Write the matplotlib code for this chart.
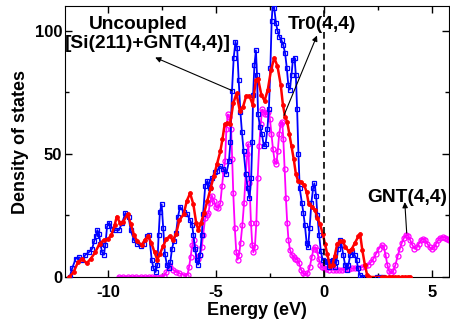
import matplotlib
matplotlib.use("Agg")
import matplotlib.pyplot as plt

# ---------------- data ----------------
red_E = [-11.8, -11.6, -11.4, -11.2, -11.0, -10.8, -10.6, -10.4, -10.2, -10.0, -9.85, -9.7, -9.6, -9.45, -9.3,
         -9.1, -8.95, -8.8, -8.65, -8.45, -8.3, -8.15, -8.0, -7.85, -7.72, -7.6, -7.45, -7.3, -7.15, -7.0,
         -6.85, -6.7, -6.5, -6.35, -6.2, -6.05, -5.92, -5.82, -5.7, -5.55, -5.4, -5.25, -5.1, -4.95, -4.8,
         -4.7, -4.6, -4.5, -4.35, -4.2, -4.05, -3.9, -3.75, -3.6, -3.45, -3.3, -3.15, -3.05, -2.9, -2.75,
         -2.6, -2.45, -2.3, -2.15, -2.0, -1.9, -1.8, -1.7, -1.6, -1.5, -1.4, -1.3, -1.2, -1.05, -0.92,
         -0.8, -0.7, -0.55, -0.4, -0.3, -0.18, -0.05, 0.05, 0.15, 0.28, 0.4, 0.5, 0.62, 0.75, 0.88,
         1.0, 1.15, 1.3, 1.45, 1.6, 1.68, 1.78, 1.9, 2.0, 2.1, 2.7, 2.85, 3.0, 3.15, 3.3, 3.45, 3.6, 3.75, 3.9, 4.0]
red_D = [0, 2, 6, 7.5, 5.5, 7.5, 10, 13.5, 15, 15.5, 17, 21, 24.5, 22, 22.5,
         25.5, 21.5, 17, 14.5, 13, 15, 16.5, 14, 10, 7, 9.5, 12.5, 15.5, 16.5, 15,
         17.5, 23, 25.5, 31, 34, 29.5, 22, 19, 22, 26, 31, 36, 41, 46, 51,
         56, 62, 62.5, 62, 70.5, 74.5, 67.5, 69, 73.5, 73.5, 70, 80, 80.5, 74, 71.5,
         76, 84, 89, 85.5, 78, 70, 65, 63, 58, 53, 48, 42, 39, 38.5, 37.5,
         34.5, 29.5, 28.5, 27, 24, 21.5, 17.5, 13.5, 9.5, 4.5, 5, 8.5, 13.5, 14.5, 14.5,
         12, 10.5, 11.5, 14, 16.5, 17.5, 11, 5, 1, 0, 0, 0, 0, 0, 0, 0, 0, 0, 0, 0]

blue_E = [-11.78, -11.67, -11.5, -11.35, -11.2, -11.06, -10.9, -10.74, -10.65, -10.58, -10.5, -10.42, -10.36,
          -10.28, -10.2, -10.13, -10.05, -9.95, -9.8, -9.68, -9.5, -9.35, -9.2, -9.05, -8.96, -8.8, -8.65,
          -8.5, -8.35, -8.2, -8.1, -7.98, -7.9, -7.8, -7.72, -7.66, -7.6, -7.52, -7.45, -7.37, -7.28, -7.2,
          -7.12, -7.04, -6.95, -6.85, -6.76, -6.67, -6.5, -6.34, -6.2, -6.1, -6.05, -5.97, -5.9, -5.83,
          -5.74, -5.66, -5.6, -5.5, -5.4, -5.28, -5.19, -5.05, -4.95, -4.82, -4.67, -4.52, -4.4, -4.33,
          -4.26, -4.18, -4.1, -4.02, -3.95, -3.87, -3.8, -3.72, -3.62, -3.53, -3.45, -3.37, -3.32, -3.28,
          -3.22, -3.15, -3.1, -3.05, -2.96, -2.87, -2.78, -2.7, -2.62, -2.55, -2.48, -2.42, -2.36, -2.3,
          -2.22, -2.15, -2.06, -1.96, -1.88, -1.8, -1.72, -1.65, -1.58, -1.5, -1.44, -1.36, -1.3, -1.24,
          -1.18, -1.12, -1.02, -0.95, -0.88, -0.8, -0.73, -0.66, -0.58, -0.5, -0.44, -0.36, -0.3, -0.22,
          -0.14, -0.06, 0.04, 0.14, 0.22, 0.32, 0.4, 0.5, 0.58, 0.66, 0.74, 0.82, 0.9, 0.98, 1.06, 1.14,
          1.22, 1.32, 1.42, 1.52, 1.58, 1.66, 1.76, 2.45, 2.6, 2.75]
blue_D = [0, 3.5, 7.5, 8, 7, 9, 10, 11.5, 14.5, 16.5, 19, 17.5, 13.5,
          10, 9, 13, 20.5, 22, 19.5, 19, 19, 22, 26, 24.5, 19, 15, 13.5,
          12.5, 13.5, 16.5, 17, 7, 3.5, 2, 5, 17, 26.5, 29.5, 20, 9.5, 5, 3.5,
          6, 11.5, 14.5, 18, 24.5, 28.5, 26.5, 25.5, 23, 21, 17, 11.5, 7, 5,
          9, 17, 25.5, 37, 39, 36, 40, 42.5, 43, 45, 44, 42, 47, 55,
          75.5, 89, 95.5, 93, 80, 67, 59, 51, 42, 36, 32, 40, 55, 74,
          86, 92, 82, 66, 61, 58, 53, 54, 60, 68, 85, 104, 112, 109,
          103, 100, 97.5, 96, 94, 91, 85, 78, 76, 82, 88, 89, 82, 68,
          50, 36, 30, 26, 21, 14, 12, 20, 30, 36, 38, 33, 25, 17,
          10.5, 7, 6.5, 6, 4, 6.5, 7, 4, 6, 11.5, 15, 13, 9, 5, 3, 5,
          9, 10, 9, 7, 3.5, 1, 0, 0, 0, 0]

mag_E = [-9.5, -9.3, -9.1, -8.9, -8.7, -8.5, -8.3, -8.1, -7.95, -7.75, -7.55, -7.4, -7.3, -7.2, -7.12, -7.0,
         -6.85, -6.7, -6.55, -6.4, -6.32, -6.25, -6.18, -6.1, -6.04, -5.97, -5.9, -5.83, -5.74, -5.66, -5.6,
         -5.5, -5.42, -5.35, -5.28, -5.19, -5.1, -5.0, -4.9, -4.8, -4.72, -4.65, -4.58, -4.52, -4.45, -4.38,
         -4.3, -4.25, -4.2, -4.13, -4.06, -4.0, -3.93, -3.86, -3.78, -3.7, -3.62, -3.55, -3.5, -3.45, -3.38,
         -3.32, -3.27, -3.2, -3.13, -3.07, -3.0, -2.93, -2.86, -2.8, -2.72, -2.64, -2.57, -2.5, -2.43, -2.36,
         -2.28, -2.2, -2.14, -2.07, -2.0, -1.93, -1.88, -1.82, -1.76, -1.7, -1.64, -1.57, -1.48, -1.4, -1.32,
         -1.24, -1.15, -1.06, -0.96, -0.86, -0.76, -0.66, -0.56, -0.48, -0.4, -0.32, -0.24, -0.16, -0.08, 0.0,
         0.1, 0.25, 0.4, 0.55, 0.7, 0.85, 1.0, 1.15, 1.3, 1.45, 1.6, 1.75, 1.9, 2.05, 2.18, 2.3, 2.42, 2.55,
         2.68, 2.78, 2.86, 2.94, 3.02, 3.12, 3.22, 3.32, 3.42, 3.52, 3.62, 3.72, 3.82, 3.92, 4.0, 4.1, 4.2,
         4.3, 4.4, 4.5, 4.6, 4.7, 4.8, 4.9, 5.0, 5.1, 5.2, 5.3, 5.4, 5.5, 5.6, 5.7, 5.8]
mag_D = [0, 0, 0, 0, 0, 0, 0, 0, 0, 0, 0, 0.5, 2, 5, 4, 3,
         2.2, 1.5, 1, 0.5, 1, 4, 8, 13, 15, 12, 8, 7.5, 9, 12, 17,
         24, 25, 26, 30, 33, 31, 28.5, 28, 30, 37, 43, 47, 60, 66, 65,
         60, 48, 34, 20, 10, 7, 9, 14, 21, 30, 42, 50, 54, 38, 22,
         13, 10, 12, 22, 40, 53, 62, 68, 67, 66, 66, 67, 64, 58, 52,
         47, 46, 51, 58, 62, 63, 56, 44, 32, 22, 15, 11, 9, 8, 7.5,
         7, 5.5, 3, 1.5, 1, 1.5, 4, 8, 11.5, 12, 11, 7.5, 5, 4, 3.5,
         3.2, 3, 3, 3, 3, 3, 3.2, 3.3, 3.5, 3.6, 3.8, 4, 4.5, 5, 6, 7.5, 9.5, 11.5,
         13, 12, 9, 5, 2.5, 1.5, 2.5, 5, 8.5, 11.5, 14, 16, 17.2, 16.5, 15, 13, 11.5,
         12, 13.5, 15, 15.5, 15, 13.5, 12, 11.5, 12, 13.5, 15, 16, 16.3, 16, 15.5, 15]

x_ticks = [-10, -5, 0, 5]
y_ticks = [0, 50, 100]

# ---------------- style ----------------
plt.rcParams['font.family'] = ['Liberation Sans', 'DejaVu Sans']
plt.rcParams['font.weight'] = 'bold'
plt.rcParams['axes.unicode_minus'] = False

fig = plt.figure(figsize=(4.5, 3.24), dpi=100)
ax = fig.add_axes([65/450, 47/324, 384/450, 271/324])

ax.plot(mag_E, mag_D, color='#ff00ff', lw=1.3, marker='o', ms=3.6, mfc='none', mew=0.9, zorder=2)
ax.plot(blue_E, blue_D, color='#0000ff', lw=1.3, marker='s', ms=3.2, mfc='none', mew=0.9, zorder=3)
ax.plot(red_E, red_D, color='#ff0000', lw=1.8, marker='o', ms=2.8, mfc='#ff0000', mew=0.6, zorder=4)

ax.axvline(0, color='black', lw=1.2, ls=(0, (4, 2.5)), zorder=5)

ax.set_xlim(-12, 5.8)
ax.set_ylim(0, 110)
ax.set_xticks(x_ticks)
ax.set_yticks(y_ticks)
ax.set_xticks([-7.5, -2.5, 2.5], minor=True)
ax.set_yticks([25, 75], minor=True)
ax.tick_params(which='both', direction='in', top=True, right=True, labelsize=12, width=1)
ax.tick_params(which='major', length=5)
ax.tick_params(which='minor', length=3)
ax.tick_params(axis='x', pad=6)
ax.tick_params(axis='y', pad=2)
for lab in ax.get_xticklabels() + ax.get_yticklabels():
    lab.set_fontweight('bold')

ax.set_xlabel('Energy (eV)', fontsize=13, fontweight='bold', labelpad=1)
ax.set_ylabel('Density of states', fontsize=13, fontweight='bold', labelpad=4)

tkw = dict(fontsize=13.8, fontweight='bold', ha='left', va='baseline', zorder=6)
ax.text(-10.9, 100.8, 'Uncoupled', **tkw)
ax.text(-12.0, 93.1, '[Si(211)+GNT(4,4)]', **tkw)
ax.text(-1.67, 100.8, 'Tr0(4,4)', **tkw)
ax.text(1.99, 30.4, 'GNT(4,4)', **tkw)

akw = dict(arrowstyle='-|>', color='black', lw=0.8, mutation_scale=8, shrinkA=0, shrinkB=0)
ax.annotate('', xy=(-7.82, 89.1), xytext=(-4.26, 75.7), arrowprops=akw, zorder=6)
ax.annotate('', xy=(-0.32, 98.0), xytext=(-1.85, 65.6), arrowprops=akw, zorder=6)
ax.annotate('', xy=(3.75, 30.4), xytext=(3.84, 17.8), arrowprops=akw, zorder=6)

fig.savefig('out.png', dpi=100)
